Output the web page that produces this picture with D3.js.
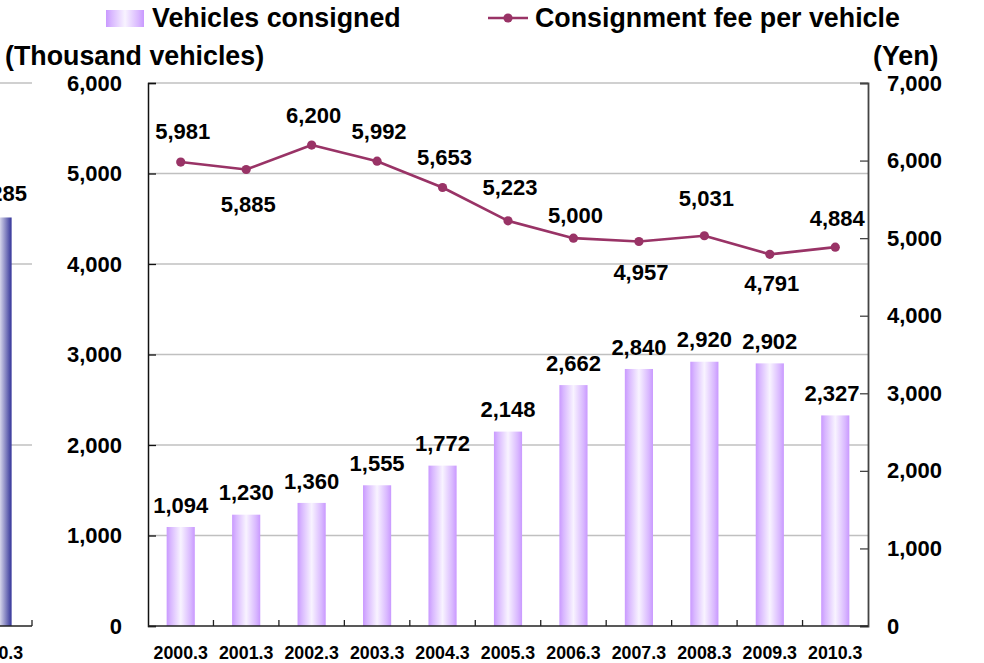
<!DOCTYPE html>
<html>
<head>
<meta charset="utf-8">
<script src="https://cdn.jsdelivr.net/npm/d3@7"></script>
<style>
  html, body { margin: 0; padding: 0; background: #fff; }
  svg { display: block; }
  text { font-family: "Liberation Sans", Arial, Helvetica, sans-serif; font-weight: bold; fill: #000; }
</style>
</head>
<body>
<svg id="chart" width="984" height="663"></svg>
<script>
// Fiscal years (ending March)
const categories = ["2000.3", "2001.3", "2002.3", "2003.3", "2004.3", "2005.3",
                    "2006.3", "2007.3", "2008.3", "2009.3", "2010.3"];
// Vehicles consigned (thousand vehicles)
const vehicles = [1094, 1230, 1360, 1555, 1772, 2148, 2662, 2840, 2920, 2902, 2327];
// Consignment fee per vehicle (yen)
const fees = [5981, 5885, 6200, 5992, 5653, 5223, 5000, 4957, 5031, 4791, 4884];
// Vertical shift of each fee label from its point (negative = above)
const feeLabelShift = [-31, 35, -30, -30, -30, -34, -23, 31, -37, 29, -29];
// Axis ticks
const leftTicks = [0, 1000, 2000, 3000, 4000, 5000, 6000];
const rightTicks = [0, 1000, 2000, 3000, 4000, 5000, 6000, 7000];

// Neighbouring panel, only its last column shows at the left edge
const prevCategories = ["2010.3"];
const prevValues = [11285];
const prevTicks = [0, 5000, 10000, 15000];

const svg = d3.select("#chart");
const fmt = d3.format(",");

const plot = { left: 148, right: 868, top: 83, bottom: 626 };
const titleSize = 26.8, numSize = 22, catSize = 17.8;

const x = d3.scaleBand().domain(categories).range([plot.left, plot.right]).paddingInner(0.57).paddingOuter(0.285);
const xb = d3.scaleBand().domain(categories).range([plot.left, plot.right]);
const yL = d3.scaleLinear().domain([0, 6000]).range([plot.bottom, plot.top]);
const yR = d3.scaleLinear().domain([0, 7000]).range([plot.bottom, plot.top]);

const defs = svg.append("defs");
const g1 = defs.append("linearGradient").attr("id", "barGrad").attr("x1", "0%").attr("x2", "100%").attr("y1", "0%").attr("y2", "0%");
g1.append("stop").attr("offset", "0%").attr("stop-color", "#c999ff");
g1.append("stop").attr("offset", "15%").attr("stop-color", "#d9b8ff");
g1.append("stop").attr("offset", "50%").attr("stop-color", "#f8f3ff");
g1.append("stop").attr("offset", "85%").attr("stop-color", "#d9b8ff");
g1.append("stop").attr("offset", "100%").attr("stop-color", "#c999ff");
const g2 = defs.append("linearGradient").attr("id", "prevGrad").attr("x1", "0%").attr("x2", "100%");
g2.append("stop").attr("offset", "0%").attr("stop-color", "#333399");
g2.append("stop").attr("offset", "50%").attr("stop-color", "#ffffff");
g2.append("stop").attr("offset", "100%").attr("stop-color", "#333399");

// ---- previous panel (cut off at the left edge) ----
const prev = svg.append("g");
const px = d3.scaleBand().domain(prevCategories).range([-38, 32]).paddingInner(0.57).paddingOuter(0.3);
const py = d3.scaleLinear().domain([0, 15000]).range([plot.bottom, plot.top]);
prev.selectAll("line.grid").data(prevTicks.slice(1)).join("line")
  .attr("x1", -40).attr("x2", 32)
  .attr("y1", d => py(d)).attr("y2", d => py(d))
  .attr("stroke", "#c0c0c0").attr("stroke-width", 1.3);
prev.selectAll("rect").data(prevValues).join("rect")
  .attr("x", (d, i) => px(prevCategories[i]))
  .attr("width", px.bandwidth())
  .attr("y", d => py(d))
  .attr("height", d => plot.bottom - py(d))
  .attr("fill", "url(#prevGrad)");
prev.append("line").attr("x1", -40).attr("x2", 32).attr("y1", plot.bottom).attr("y2", plot.bottom)
  .attr("stroke", "#222").attr("stroke-width", 1.5);
prev.append("line").attr("x1", 32).attr("x2", 32).attr("y1", plot.bottom).attr("y2", plot.bottom - 6)
  .attr("stroke", "#222").attr("stroke-width", 1.3);
prev.selectAll("text.val").data(prevValues).join("text")
  .attr("x", (d, i) => px(prevCategories[i]) + px.bandwidth() / 2 - 3)
  .attr("y", d => py(d) - 24).attr("dy", "0.35em")
  .attr("text-anchor", "middle").attr("font-size", numSize).text(d => fmt(d));
prev.selectAll("text.cat").data(prevCategories).join("text")
  .attr("x", d => px(d) + px.bandwidth() / 2 - 1)
  .attr("y", 659).attr("text-anchor", "middle").attr("font-size", catSize).text(d => d);

// ---- main panel ----
// gridlines
svg.append("g").selectAll("line").data(leftTicks.slice(1)).join("line")
  .attr("x1", plot.left).attr("x2", plot.right)
  .attr("y1", d => yL(d)).attr("y2", d => yL(d))
  .attr("stroke", "#c0c0c0").attr("stroke-width", 1.3);

// bars
svg.append("g").selectAll("rect").data(vehicles).join("rect")
  .attr("x", (d, i) => x(categories[i]))
  .attr("width", x.bandwidth())
  .attr("y", d => yL(d))
  .attr("height", d => plot.bottom - yL(d))
  .attr("fill", "url(#barGrad)");

// left axis
const axL = svg.append("g").attr("transform", `translate(${plot.left},0)`)
  .call(d3.axisLeft(yL).tickValues(leftTicks).tickSize(-8).tickPadding(26).tickFormat(fmt));
axL.select(".domain").attr("stroke", "#111").attr("stroke-width", 1.5);
axL.selectAll(".tick line").attr("stroke", "#111").attr("stroke-width", 1.3);
axL.selectAll(".tick text").attr("font-size", numSize).attr("font-family", null).attr("fill", "#000");

// right axis
const axR = svg.append("g").attr("transform", `translate(${plot.right},0)`)
  .call(d3.axisRight(yR).tickValues(rightTicks).tickSize(-8).tickPadding(19).tickFormat(fmt));
axR.select(".domain").attr("stroke", "#444").attr("stroke-width", 1.8);
axR.selectAll(".tick line").attr("stroke", "#444").attr("stroke-width", 1.3);
axR.selectAll(".tick text").attr("font-size", numSize).attr("font-family", null).attr("fill", "#000");

// bottom axis: ticks at category boundaries
const axB = svg.append("g").attr("transform", `translate(0,${plot.bottom})`);
axB.append("line").attr("x1", plot.left).attr("x2", plot.right).attr("stroke", "#222").attr("stroke-width", 1.6);
axB.selectAll("line.tk").data(categories.slice(1)).join("line")
  .attr("x1", d => xb(d)).attr("x2", d => xb(d)).attr("y1", 0).attr("y2", -6)
  .attr("stroke", "#222").attr("stroke-width", 1.3);
axB.selectAll("text").data(categories).join("text")
  .attr("x", d => xb(d) + xb.bandwidth() / 2)
  .attr("y", 33).attr("text-anchor", "middle").attr("font-size", catSize).text(d => d);

// bar value labels (kept inside the plot area at the right edge)
svg.append("g").selectAll("text").data(vehicles).join("text")
  .attr("x", (d, i) => {
    const cx = x(categories[i]) + x.bandwidth() / 2;
    return Math.min(cx, plot.right - 8 - 28);
  })
  .attr("y", d => yL(d) - 22).attr("dy", "0.35em")
  .attr("text-anchor", "middle").attr("font-size", numSize).text(d => fmt(d));

// fee line
const cxOf = i => xb(categories[i]) + xb.bandwidth() / 2;
const lineGen = d3.line().x((d, i) => cxOf(i)).y(d => yR(d));
svg.append("path").datum(fees).attr("d", lineGen)
  .attr("fill", "none").attr("stroke", "#993366").attr("stroke-width", 2.6).attr("stroke-linejoin", "round");
svg.append("g").selectAll("circle").data(fees).join("circle")
  .attr("cx", (d, i) => cxOf(i)).attr("cy", d => yR(d)).attr("r", 4.6).attr("fill", "#993366");
svg.append("g").selectAll("text").data(fees).join("text")
  .attr("x", (d, i) => cxOf(i) + 2)
  .attr("y", (d, i) => yR(d) + feeLabelShift[i]).attr("dy", "0.35em")
  .attr("text-anchor", "middle").attr("font-size", numSize).text(d => fmt(d));

// axis titles
svg.append("text").attr("x", 5).attr("y", 65).attr("font-size", titleSize).text("(Thousand vehicles)");
svg.append("text").attr("x", 873).attr("y", 65).attr("font-size", titleSize).text("(Yen)");

// legend
const lg = svg.append("g");
lg.append("rect").attr("x", 106).attr("y", 10).attr("width", 38).attr("height", 17).attr("fill", "url(#barGrad)");
lg.append("text").attr("x", 152).attr("y", 27).attr("font-size", titleSize).text("Vehicles consigned");
lg.append("line").attr("x1", 488).attr("x2", 528).attr("y1", 18).attr("y2", 18)
  .attr("stroke", "#993366").attr("stroke-width", 2.6);
lg.append("circle").attr("cx", 508).attr("cy", 18).attr("r", 4.6).attr("fill", "#993366");
lg.append("text").attr("x", 535).attr("y", 27).attr("font-size", titleSize).text("Consignment fee per vehicle");
</script>
</body>
</html>
